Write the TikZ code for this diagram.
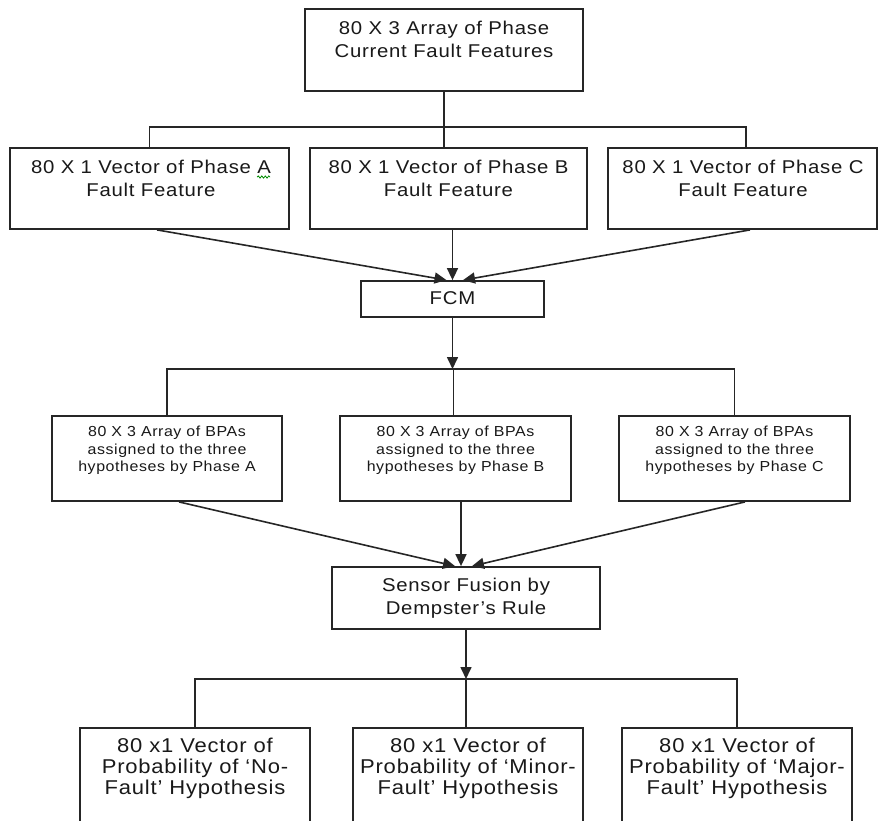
\documentclass[tikz,border=0pt]{standalone}
\usepackage{fontspec}
\setmainfont{Liberation Sans}
\newfontfamily\boxfont{Liberation Sans}[FakeStretch=1.1, LetterSpace=4]
\usetikzlibrary{arrows.meta,decorations.pathmorphing}

\tikzset{
  box/.style={draw=black!85, line width=1.8pt, fill=white, inner sep=0pt},
  link/.style={draw=black!85, line width=1.6pt},
  arr/.style={link, -{Triangle[length=12pt,width=11pt]}},
  txtL/.style={align=center, inner sep=0pt, text=black!90,
    font=\boxfont\fontsize{18.5}{23}\selectfont},
  txtS/.style={align=center, inner sep=0pt, text=black!90,
    font=\boxfont\fontsize{14.5}{17.5}\selectfont},
  txtB/.style={align=center, inner sep=0pt, text=black!90,
    font=\boxfont\fontsize{20}{21}\selectfont},
  squiggle/.style={draw=green!55!black, line width=0.8pt, decorate,
    decoration={snake, amplitude=1.1pt, segment length=3.5pt}},
}

\begin{document}
\begin{tikzpicture}[x=1pt, y=-1pt]
  \useasboundingbox (0,0) rectangle (878,820);
  \clip (0,0) rectangle (878,820);

  % source array
  \node[box, minimum width=278pt, minimum height=82pt] (top) at (444,50) {};
  \node[txtL] (topT) at (444,39.5) {80 X 3 Array of Phase\\Current Fault Features};

  % per-phase feature vectors
  \node[box, minimum width=279pt, minimum height=81pt] (pA) at (149.5,188.5) {};
  \node[box, minimum width=277pt, minimum height=81pt] (pB) at (448.5,188.5) {};
  \node[box, minimum width=269pt, minimum height=81pt] (pC) at (742.5,188.5) {};
  \node[txtL] (pAT) at (151,178.5) {80 X 1 Vector of Phase A\\Fault Feature};
  \node[txtL] (pBT) at (448.5,178.5) {80 X 1 Vector of Phase B\\Fault Feature};
  \node[txtL] (pCT) at (743,178.5) {80 X 1 Vector of Phase C\\Fault Feature};
  % spell-check mark under the "A"
  \draw[squiggle] ([xshift=-14pt,yshift=-17pt]pAT.north east) -- ([xshift=-1pt,yshift=-17pt]pAT.north east);

  % FCM
  \node[box, minimum width=183pt, minimum height=36pt] (fcm) at (452.5,299) {};
  \node[txtL] (fcmT) at (452.5,298) {FCM};

  % BPA arrays
  \node[box, minimum width=230pt, minimum height=85pt] (qA) at (167,458.5) {};
  \node[box, minimum width=231pt, minimum height=85pt] (qB) at (455.5,458.5) {};
  \node[box, minimum width=231pt, minimum height=85pt] (qC) at (734.5,458.5) {};
  \node[txtS] (qAT) at (167,450.5) {80 X 3 Array of BPAs\\assigned to the three\\hypotheses by Phase A};
  \node[txtS] (qBT) at (455.5,450.5) {80 X 3 Array of BPAs\\assigned to the three\\hypotheses by Phase B};
  \node[txtS] (qCT) at (734.5,450.5) {80 X 3 Array of BPAs\\assigned to the three\\hypotheses by Phase C};

  % fusion
  \node[box, minimum width=268pt, minimum height=62pt] (fus) at (466,598) {};
  \node[txtL] (fusT) at (466,598) {Sensor Fusion by\\Dempster’s Rule};

  % output probability vectors
  \node[box, minimum width=230pt, minimum height=117pt] (rA) at (195,786.5) {};
  \node[box, minimum width=230pt, minimum height=117pt] (rB) at (468,786.5) {};
  \node[box, minimum width=230pt, minimum height=117pt] (rC) at (737,786.5) {};
  \node[txtB] (rAT) at (195,768) {80 x1 Vector of\\Probability of ‘No-\\Fault’ Hypothesis};
  \node[txtB] (rBT) at (468,768) {80 x1 Vector of\\Probability of ‘Minor-\\Fault’ Hypothesis};
  \node[txtB] (rCT) at (737,768) {80 x1 Vector of\\Probability of ‘Major-\\Fault’ Hypothesis};

  % split of the source array into phases
  \coordinate (b1) at (444,127);
  \draw[link] (top.south) -- (b1);
  \draw[link] (pA.north) |- (b1) -| ([xshift=3.5pt]pC.north);
  \draw[link] (b1) -- (b1 |- pB.north);

  % phases into FCM
  \draw[arr] ([xshift=7.5pt]pA.south) -- ([xshift=-6pt]fcm.north);
  \draw[arr] (fcm.north |- pB.south) -- (fcm.north);
  \draw[arr] ([xshift=7.5pt]pC.south) -- ([xshift=10.5pt]fcm.north);

  % FCM out to the BPA arrays
  \coordinate (b2) at (453.5,369);
  \draw[arr] (fcm.south) -- (fcm.south |- b2);
  \draw[link] (qA.north) |- (b2) -| (qC.north);
  \draw[link] (b2) -- (b2 |- qB.north);

  % BPA arrays into fusion
  \draw[arr] ([xshift=12pt]qA.south) -- ([xshift=-11pt]fus.north);
  \draw[arr] ([xshift=-5pt]fus.north |- qB.south) -- ([xshift=-5pt]fus.north);
  \draw[arr] ([xshift=10.5pt]qC.south) -- ([xshift=6pt]fus.north);

  % fusion out to the hypotheses
  \coordinate (b3) at (466,679);
  \draw[arr] (fus.south) -- (b3);
  \draw[link] (rA.north) |- (b3) -| (rC.north);
  \draw[link] (b3) -- (b3 |- rB.north);
\end{tikzpicture}
\end{document}
